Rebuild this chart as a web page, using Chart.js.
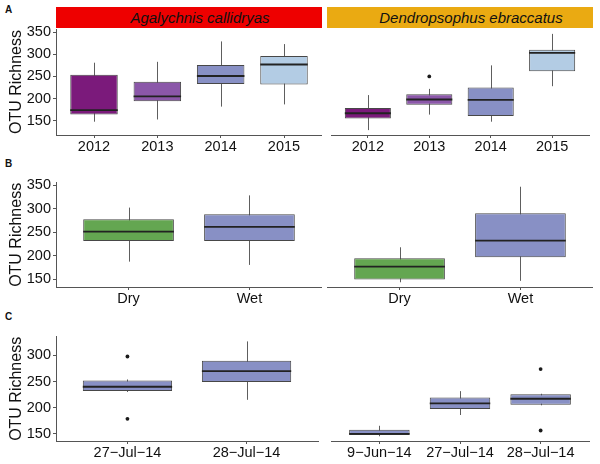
<!DOCTYPE html>
<html>
<head>
<meta charset="utf-8">
<script src="https://cdn.jsdelivr.net/npm/chart.js@4.4.1/dist/chart.umd.min.js"></script>
<style>
body { margin:0; background:#fff; width:600px; height:464px; position:relative; overflow:hidden; font-family:"Liberation Sans", Arial, sans-serif; }
canvas, .strip, .tag { position:absolute; }
.strip { top:7px; height:21px; line-height:21px; font-style:italic; font-size:15px; color:#111; text-align:center; box-sizing:border-box; padding-left:22px; z-index:2; }
.tag { font-weight:bold; font-size:10px; left:5px; color:#111; }
</style>
</head>
<body>
<div class="tag" style="top:4px">A</div>
<div class="tag" style="top:158px">B</div>
<div class="tag" style="top:311px">C</div>
<div class="strip" style="left:56px; width:266px; background:#EE0000">Agalychnis callidryas</div>
<div class="strip" style="left:327px; width:266px; background:#EAAA12">Dendropsophus ebraccatus</div>

<canvas id="aYear" width="322" height="149" style="left:0; top:8px"></canvas>
<canvas id="dYear" width="266" height="149" style="left:327px; top:8px"></canvas>
<canvas id="aSeason" width="322" height="137" style="left:0; top:172px"></canvas>
<canvas id="dSeason" width="266" height="137" style="left:327px; top:172px"></canvas>
<canvas id="aDate" width="322" height="137" style="left:0; top:326px"></canvas>
<canvas id="dDate" width="266" height="137" style="left:327px; top:326px"></canvas>

<script>
// categories
const yearLabels = ['2012', '2013', '2014', '2015'];
const seasonLabels = ['Dry', 'Wet'];
const agaDateLabels = ['27\u2212Jul\u221214', '28\u2212Jul\u221214'];
const denDateLabels = ['9\u2212Jun\u221214', '27\u2212Jul\u221214', '28\u2212Jul\u221214'];
const yTicks = [150, 200, 250, 300, 350];

// box stats: [min, q1, median, q3, max]
const agaYear = [[148, 164, 174, 254, 281], [153, 194, 205, 238, 283], [182, 233, 251, 276, 329], [187, 232, 277, 296, 323]];
const denYear = [[129, 155, 167, 179, 208], [164, 186, 198, 210, 222], [148, 161, 197, 225, 275], [228, 262, 303, 310, 346]];
const agaSeason = [[187, 231, 251, 277, 302], [180, 231, 261, 288, 328]];
const denSeason = [[143, 149, 176, 194, 217], [146, 196, 231, 289, 345]];
const agaDate = [[230, 232, 240, 252, 254], [215, 249, 270, 290, 327]];
const denDate = [[145, 147.5, 149.4, 157.6, 165], [185.5, 197, 207.6, 219, 231], [204, 205, 216.5, 225, 226]];

// outliers: [category position, value]
const agaYearOut = [];
const denYearOut = [[2, 250]];
const agaSeasonOut = [];
const denSeasonOut = [];
const agaDateOut = [[1, 298], [1, 178.5]];
const denDateOut = [[3, 273], [3, 156]];

const yearColors = ['#7B1A7B', '#8B57A9', '#8890C5', '#B3CCE4'];
const seasonColors = ['#64A651', '#8890C5'];
const dateColors = ['#8890C5', '#8890C5', '#8890C5'];

// whiskers under the boxes, medians on top
function boxExtras(stats) {
    return {
        id: 'boxExtras',
        beforeDatasetsDraw(chart) {
            const c = chart.ctx, x = chart.scales.x, y = chart.scales.y;
            c.save();
            c.strokeStyle = '#5e5e5e';
            c.lineWidth = 1;
            stats.forEach(function (s, i) {
                const px = Math.round(x.getPixelForValue(i + 1)) + 0.5;
                c.beginPath();
                c.moveTo(px, y.getPixelForValue(s[0]));
                c.lineTo(px, y.getPixelForValue(s[4]));
                c.stroke();
            });
            c.restore();
        },
        afterDatasetsDraw(chart) {
            const c = chart.ctx, y = chart.scales.y;
            const bars = chart.getDatasetMeta(0).data;
            c.save();
            c.strokeStyle = '#222';
            c.lineWidth = 1.8;
            stats.forEach(function (s, i) {
                const b = bars[i];
                const py = y.getPixelForValue(s[2]);
                c.beginPath();
                c.moveTo(b.x - b.width / 2, py);
                c.lineTo(b.x + b.width / 2, py);
                c.stroke();
            });
            c.restore();
        }
    };
}

function drawPanel(id, labels, stats, colors, outliers, yMin, yMax, showY, padTop) {
    new Chart(document.getElementById(id), {
        type: 'bar',
        data: {
            datasets: [{
                type: 'bar',
                data: stats.map((s, i) => ({ x: i + 1, y: [s[1], s[3]] })),
                backgroundColor: colors,
                borderColor: '#474747',
                borderWidth: 1,
                borderSkipped: false,
                categoryPercentage: 1,
                barPercentage: 0.75
            }, {
                type: 'scatter',
                data: outliers.map(o => ({ x: o[0], y: o[1] })),
                pointRadius: 1.9,
                pointBackgroundColor: '#1a1a1a',
                pointBorderWidth: 0
            }]
        },
        options: {
            responsive: false,
            animation: false,
            layout: { padding: { top: padTop, left: 0, right: 0, bottom: 0 } },
            plugins: { legend: { display: false }, tooltip: { enabled: false } },
            scales: {
                x: {
                    type: 'linear',
                    offset: false,
                    min: 0.4,
                    max: labels.length + 0.6,
                    afterBuildTicks: s => { s.ticks = labels.map((l, i) => ({ value: i + 1 })); },
                    afterFit: s => { s.height = 22; },
                    grid: { display: true, drawOnChartArea: false, offset: false, tickLength: 3, color: '#555' },
                    border: { display: true, color: '#555', width: 1 },
                    ticks: {
                        autoSkip: false, maxRotation: 0, padding: 0, color: '#111',
                        font: { family: 'Liberation Sans', size: 14.5 },
                        callback: v => labels[v - 1]
                    }
                },
                y: {
                    display: showY,
                    min: yMin,
                    max: yMax,
                    afterBuildTicks: s => { s.ticks = yTicks.filter(v => v >= yMin && v <= yMax).map(v => ({ value: v })); },
                    afterFit: s => { s.width = showY ? 56 : 0; },
                    grid: { display: true, drawOnChartArea: false, tickLength: 3, color: '#555' },
                    border: { display: true, color: '#555', width: 1 },
                    ticks: { padding: 2, color: '#111', font: { family: 'Liberation Sans', size: 14.5 } },
                    title: {
                        display: true, text: 'OTU Richness', color: '#111',
                        padding: { top: 7, bottom: 0 },
                        font: { family: 'Liberation Sans', size: 16 }
                    }
                }
            }
        },
        plugins: [boxExtras(stats)]
    });
}

drawPanel('aYear', yearLabels, agaYear, yearColors, agaYearOut, 118, 357, true, 21);
drawPanel('dYear', yearLabels, denYear, yearColors, denYearOut, 118, 357, false, 21);
drawPanel('aSeason', seasonLabels, agaSeason, seasonColors, agaSeasonOut, 133, 355, true, 10);
drawPanel('dSeason', seasonLabels, denSeason, seasonColors, denSeasonOut, 133, 355, false, 10);
drawPanel('aDate', agaDateLabels, agaDate, dateColors, agaDateOut, 136, 336, true, 10);
drawPanel('dDate', denDateLabels, denDate, dateColors, denDateOut, 136, 336, false, 10);
</script>
</body>
</html>
